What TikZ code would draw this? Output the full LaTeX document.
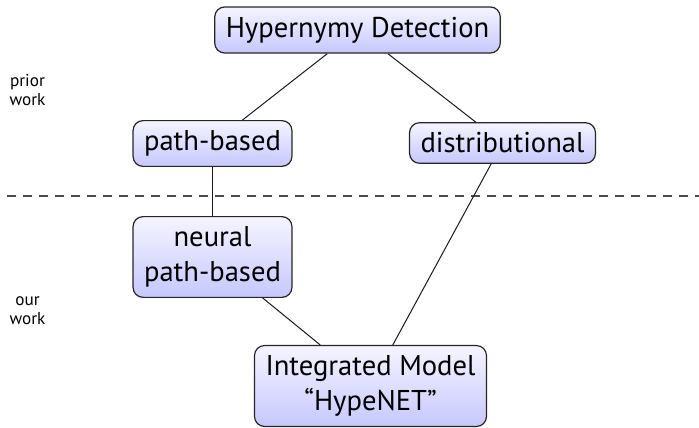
\documentclass[tikz,border=0pt]{standalone}
\usepackage{fontspec}
\setmainfont{PT Sans}
\usepackage{tikz}
\usetikzlibrary{positioning}
\tikzset{
  topicbox/.style={rectangle, rounded corners=5pt, draw=black!85, line width=0.6pt,
                   top color=blue!4, bottom color=blue!22, inner xsep=5.5pt, inner ysep=5pt,
                   align=center, font=\fontsize{14.3}{17.5}\selectfont},
  sidelabel/.style={align=center, inner sep=0pt, font=\fontsize{8.6}{9.6}\selectfont},
  link/.style={draw=black!90, line width=0.5pt},
  split/.style={draw=black!70, line width=0.6pt, dash pattern=on 4.5pt off 3.5pt},
}

\begin{document}
\begin{tikzpicture}[x=0.5pt, y=-0.5pt]
  \useasboundingbox (0,0) rectangle (699,427);

  \node[topicbox] (hyper) at (357.5,30) {Hypernymy Detection};
  \node[topicbox] (path) at (212.5,143.5) {path-based};
  \node[topicbox] (dist) at (502.5,143) {distributional};
  \node[topicbox] (neural) at (212.5,257) {neural\\path-based};
  \node[topicbox] (hype) at (370.5,386) {Integrated Model\\``HypeNET''};

  \node[sidelabel] (prior) at (27.5,90) {prior\\work};
  \node[sidelabel] (ours) at (27.5,311) {our\\work};

  \coordinate (splitL) at (7,196);
  \coordinate (splitR) at (699,196);
  \draw[split] (splitL) -- (splitR);

  \draw[link] (hyper) -- (path);
  \draw[link] (hyper) -- (dist);
  \draw[link] (path) -- (neural);
  \draw[link] (neural) -- (hype);
  \draw[link] (dist) -- (hype);
\end{tikzpicture}
\end{document}
